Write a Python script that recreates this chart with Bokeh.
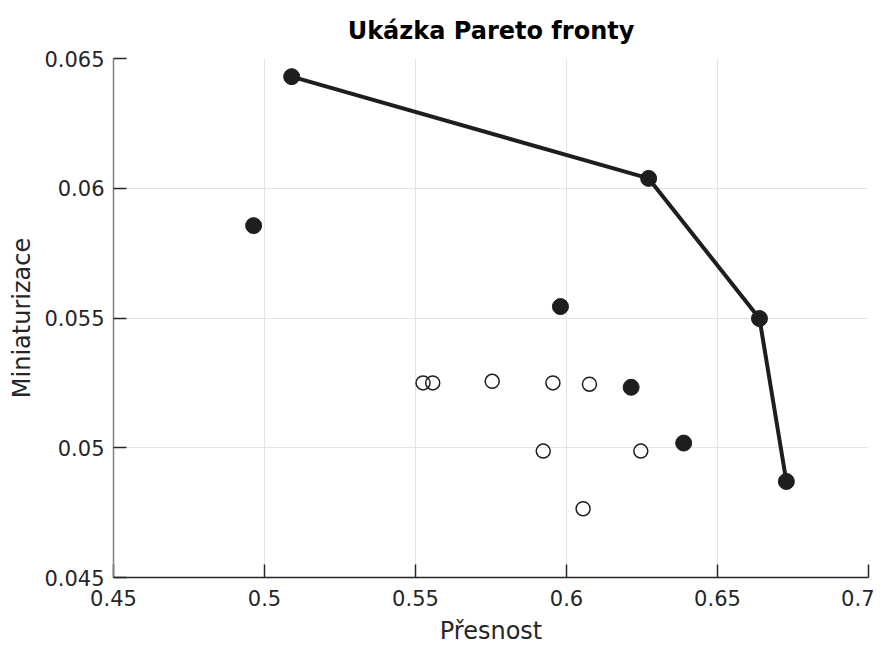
from bokeh.plotting import figure
from bokeh.models import Range1d, FixedTicker
from bokeh.embed import file_html
from bokeh.resources import INLINE

# Pareto front (filled points joined by a line)
pareto_x = [0.5090, 0.6272, 0.6639, 0.6728]
pareto_y = [0.06430, 0.06038, 0.05498, 0.04870]

# other filled points
filled_x = [0.4964, 0.5980, 0.6214, 0.6388]
filled_y = [0.05856, 0.05544, 0.05233, 0.05018]

# open (dominated) points
open_x = [0.5525, 0.5557, 0.5754, 0.5955, 0.6076, 0.5923, 0.6246, 0.6055]
open_y = [0.05250, 0.05250, 0.05256, 0.05250, 0.05245, 0.04987, 0.04987, 0.04765]

x_ticks = [0.45, 0.5, 0.55, 0.6, 0.65, 0.7]
y_ticks = [0.045, 0.05, 0.055, 0.06, 0.065]
x_labels = {0.45: "0.45", 0.5: "0.5", 0.55: "0.55", 0.6: "0.6", 0.65: "0.65", 0.7: "0.7"}
y_labels = {0.045: "0.045", 0.05: "0.05", 0.055: "0.055", 0.06: "0.06", 0.065: "0.065"}

TITLE = "Ukázka Pareto fronty"
FONT = "DejaVu Sans"
DARK = "#1e1e1e"

p = figure(output_backend="svg", toolbar_location=None,
           frame_width=755, frame_height=519,
           x_range=Range1d(0.45, 0.7), y_range=Range1d(0.045, 0.065),
           title=TITLE,
           min_border_left=113, min_border_right=6, min_border_top=58, min_border_bottom=73)
p.outline_line_color = None
p.background_fill_color = "white"

p.title.align = "center"
p.title.text_font = FONT
p.title.text_font_size = "24px"
p.title.text_font_style = "bold"
p.title.text_color = "#000000"
p.title.standoff = 27

for ax, ticks, labels in ((p.xaxis[0], x_ticks, x_labels), (p.yaxis[0], y_ticks, y_labels)):
    ax.ticker = FixedTicker(ticks=ticks)
    ax.major_label_overrides = labels
    ax.major_tick_in = 13
    ax.major_tick_out = 0
    ax.minor_tick_line_color = None
    ax.major_tick_line_color = "#262626"
    ax.major_tick_line_width = 1.5
    ax.major_label_text_font = FONT
    ax.major_label_text_font_size = "21px"
    ax.major_label_text_color = "#262626"
    ax.axis_label_text_font = FONT
    ax.axis_label_text_font_size = "24px"
    ax.axis_label_text_font_style = "normal"
    ax.axis_label_text_color = "#262626"

p.xaxis.axis_label = "Přesnost"
p.yaxis.axis_label = "Miniaturizace"
p.xaxis.axis_line_color = "#262626"
p.xaxis.axis_line_width = 1.5
p.yaxis.axis_line_color = "#808080"
p.yaxis.axis_line_width = 1.5
p.xaxis.major_label_standoff = 12
p.yaxis.major_label_standoff = 9
p.xaxis.axis_label_standoff = 8
p.yaxis.axis_label_standoff = 5

p.xgrid.ticker = FixedTicker(ticks=x_ticks)
p.ygrid.ticker = FixedTicker(ticks=y_ticks)
p.grid.grid_line_color = "#e3e3e3"
p.grid.grid_line_width = 1

p.line(pareto_x, pareto_y, line_color=DARK, line_width=4)
p.scatter(pareto_x, pareto_y, size=16, fill_color=DARK, line_color=DARK)
p.scatter(filled_x, filled_y, size=16, fill_color=DARK, line_color=DARK)
p.scatter(open_x, open_y, size=14, fill_color=None, line_color=DARK, line_width=1.5)

open("out.html", "w").write(file_html(p, INLINE))
